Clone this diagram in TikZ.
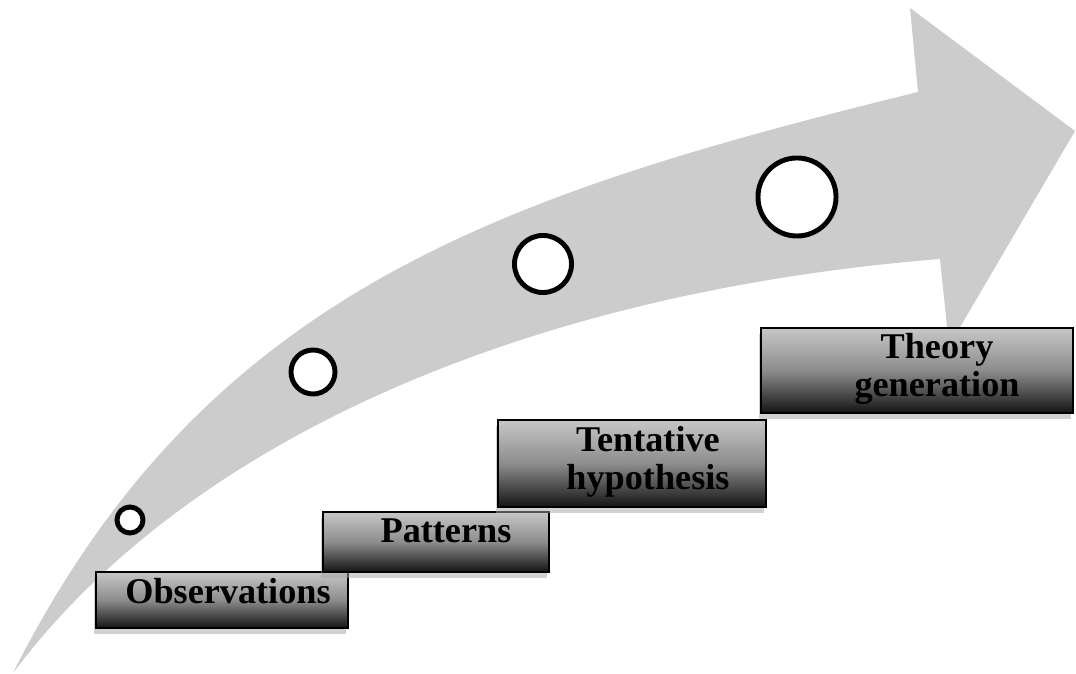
\documentclass[tikz,border=0pt]{standalone}
\usepackage{fontspec}
\setmainfont{Liberation Serif}
\usetikzlibrary{shadows}
\tikzset{
  arrowfill/.style={fill=black!20},
  dotnode/.style={circle,draw=black,fill=white,line width=1.4pt,inner sep=0pt},
  stepbox/.style={rectangle,draw=black,line width=0.5pt,inner sep=0pt,
    top color=black!22,bottom color=black!92,middle color=black!45,
    drop shadow={shadow xshift=-0.6pt,shadow yshift=-1.6pt,fill=black!35,opacity=0.5}},
  steptext/.style={anchor=north,inner sep=0pt,align=center,
    font=\fontsize{10.3}{10.8}\selectfont\bfseries},
}

\begin{document}
\begin{tikzpicture}[x=0.01cm,y=-0.01cm]
  \useasboundingbox (0,0) rectangle (1076,674);
  % curved arrow
  \coordinate (tail) at (13,673);
  \coordinate (topend) at (918,92);
  \coordinate (lowend) at (940,259);
  \fill[arrowfill] (tail) .. controls (205,292) and (500,195) .. (topend)
    -- (910,8) -- (1075,131) -- (949,346) -- (lowend)
    .. controls (540,291) and (193,433) .. (tail) -- cycle;
  \node[dotnode,minimum size=0.26cm] (nc1) at (130,520) {};
  \node[dotnode,minimum size=0.44cm] (nc2) at (313,372) {};
  \node[dotnode,minimum size=0.57cm] (nc3) at (543,264) {};
  \node[dotnode,minimum size=0.78cm] (nc4) at (797,197) {};
  \node[stepbox,minimum width=2.52cm,minimum height=0.56cm] (nobs) at (222,600) {};
  \node[stepbox,minimum width=2.26cm,minimum height=0.60cm] (npat) at (436,542) {};
  \node[stepbox,minimum width=2.68cm,minimum height=0.87cm] (ntent) at (632,463.5) {};
  \node[stepbox,minimum width=3.12cm,minimum height=0.85cm] (ntheo) at (917,370.5) {};
  \node[steptext] (tobs) at (228,578) {Observations};
  \node[steptext] (tpat) at (446,518) {Patterns};
  \node[steptext] (ttent) at (648,426) {Tentative\\hypothesis};
  \node[steptext] (ttheo) at (937,333) {Theory\\generation};
\end{tikzpicture}
\end{document}
